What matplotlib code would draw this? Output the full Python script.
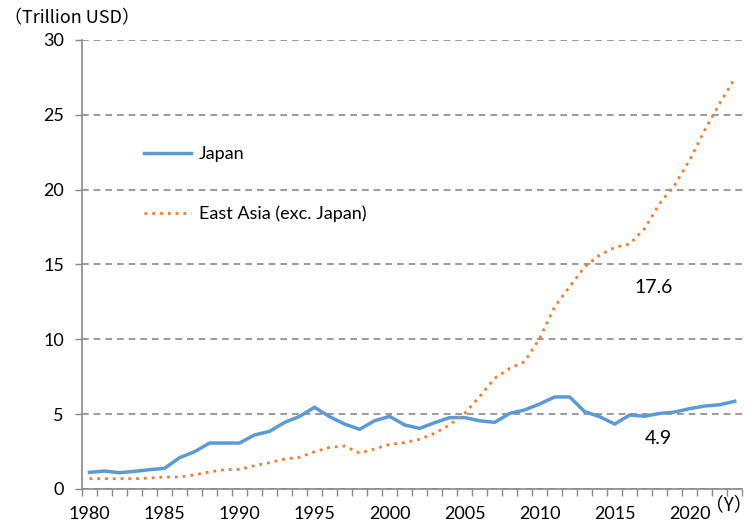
import numpy as np
import matplotlib
matplotlib.use('Agg')
import matplotlib.pyplot as plt

years = list(range(1980, 2024))
japan = [1.11, 1.20, 1.09, 1.18, 1.29, 1.38, 2.09, 2.49, 3.07, 3.07,
         3.07, 3.61, 3.85, 4.45, 4.85, 5.46, 4.83, 4.34, 3.99, 4.56,
         4.85, 4.28, 4.05, 4.43, 4.77, 4.77, 4.56, 4.45, 5.05, 5.28,
         5.68, 6.15, 6.15, 5.17, 4.83, 4.34, 4.94, 4.86, 5.05, 5.14,
         5.37, 5.54, 5.63, 5.86]
east_asia = [0.69, 0.69, 0.69, 0.69, 0.73, 0.80, 0.80, 0.94, 1.14, 1.29,
             1.31, 1.56, 1.76, 2.00, 2.12, 2.49, 2.78, 2.87, 2.40, 2.67,
             2.98, 3.10, 3.32, 3.72, 4.28, 5.05, 6.17, 7.39, 8.06, 8.51,
             10.07, 12.18, 13.52, 14.85, 15.63, 16.14, 16.37, 17.41, 19.08, 20.31,
             21.98, 23.98, 25.76, 27.43]
label_years = [1980, 1985, 1990, 1995, 2000, 2005, 2010, 2015, 2020]

plt.rcParams['font.family'] = ['Lato', 'DejaVu Sans']
grey = '#898989'

fig = plt.figure(figsize=(7.52, 5.24), dpi=100)
ax = fig.add_axes([0.109, 0.0668, 0.878, 0.8569])

x = np.arange(len(years))
ax.plot(x, japan, color='#5b9bd5', linewidth=2.5, label='Japan', zorder=3)
ax.plot(x, east_asia, color='#ed7d31', linewidth=2.0, linestyle=(0, (1, 1.8)),
        label='East Asia (exc. Japan)', zorder=3)

ax.set_xlim(-0.5, len(years) - 0.5)
ax.set_ylim(0, 30)
ax.set_yticks(range(0, 31, 5))
ax.yaxis.grid(True, color=grey, linestyle=(0, (4, 3)), linewidth=1.2)
ax.set_axisbelow(True)

ax.set_xticks([years.index(y) for y in label_years])
ax.set_xticklabels([str(y) for y in label_years])
ax.set_xticks(np.arange(len(years) + 1) - 0.5, minor=True)
ax.tick_params(axis='x', which='major', length=0, pad=12, labelsize=13)
ax.tick_params(axis='x', which='minor', length=5, width=1, color=grey, direction='out')
ax.tick_params(axis='y', length=5, width=1, color=grey, labelsize=13, pad=8)

for s in ['top', 'right']:
    ax.spines[s].set_visible(False)
for s in ['left', 'bottom']:
    ax.spines[s].set_color(grey)
    ax.spines[s].set_linewidth(1.2)

ax.legend(loc='upper left', bbox_to_anchor=(0.07, 0.8), frameon=False,
          fontsize=13, handlelength=2.6, handletextpad=0.4, labelspacing=2.4)

ax.text(37.6, 13.45, '17.6', fontsize=14, ha='center', va='center')
ax.text(37.9, 3.4, '4.9', fontsize=14, ha='center', va='center')

fig.text(0.005, 0.965, '（Trillion USD）', fontsize=13, ha='left', va='center',
         family=['Noto Sans CJK JP', 'DejaVu Sans'])
fig.text(1.0, 0.037, '（Y）', fontsize=13.5, ha='right', va='center',
         family=['Noto Sans CJK JP', 'DejaVu Sans'])

fig.savefig('out.png', dpi=100)
